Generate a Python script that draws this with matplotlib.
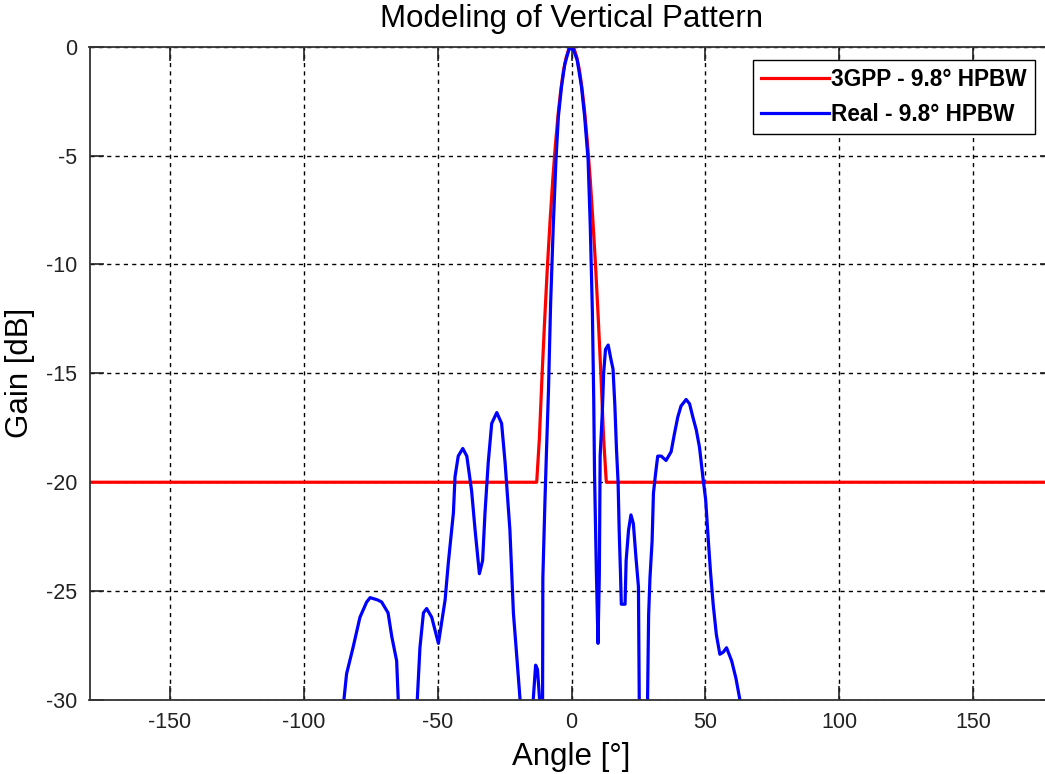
import numpy as np
import matplotlib
matplotlib.use("Agg")
import matplotlib.pyplot as plt

plt.rcParams['font.family'] = ['Liberation Sans', 'DejaVu Sans']
plt.rcParams['axes.unicode_minus'] = False

# 3GPP model (red)
gpp_angle = [-180, -13, -12, -11, -10, -9, -8, -7, -6, -5, -4, -3, -2, -1, 0,
             1, 2, 3, 4, 5, 6, 7, 8, 9, 10, 11, 12, 13, 180]
gpp_gain = [-20, -20, -18.0, -15.1, -12.5, -10.1, -8.0, -6.1, -4.5, -3.1, -2.0, -1.1, -0.5, -0.1, 0,
            -0.1, -0.5, -1.1, -2.0, -3.1, -4.5, -6.1, -8.0, -10.1, -12.5, -15.1, -18.0, -20, -20]

real_angle = [-90, -85, -84, -81.6, -79, -76.5, -75.2, -72.5, -70.9, -68.5, -67.1, -65.3, -64.7,
              -61, -57.6, -56.6, -55.3, -54.1, -52.2, -49.7, -47.2, -46.0, -44.1, -43.5, -42.3,
              -40.6, -39.1, -37.3, -36.0, -34.4, -33.2, -32.3, -31.1, -29.8, -27.9, -26.1, -24.8,
              -23.0, -21.7, -20.5, -19.2, -16.5, -14.3, -13.4, -12.7, -11.9, -11.4, -10.8, -10.7,
              -9.9, -9.3, -8.6, -7.8, -6.8, -5.8, -4.9, -3.7, -2.5, -0.9, 0.6, 2.1, 3.7, 4.9,
              6.2, 7.0, 7.8, 8.3, 8.6, 9.3, 9.9, 10.4, 10.7, 11.5, 12.0, 12.7, 13.7, 14.8, 15.5,
              16.2, 16.8, 17.4, 17.8, 18.3, 18.6, 20.0, 20.4, 21.3, 22.2, 23.1, 24.1, 25.0, 25.3,
              27, 28.4, 28.8, 29.3, 30.1, 30.6, 31.4, 32.2, 33.5, 35.3, 37.2, 38.4, 39.7, 40.9,
              42.8, 44.1, 45.3, 46.6, 47.8, 49.1, 50.1, 51.0, 51.9, 52.9, 54.1, 55.4, 56.7,
              57.9, 59.8, 61.4, 62.9, 66]
real_gain = [-36, -30.0, -28.8, -27.6, -26.2, -25.5, -25.3, -25.4, -25.5, -26.0, -27.1, -28.2, -30.0,
             -35, -30.0, -27.6, -26.0, -25.8, -26.2, -27.4, -25.4, -23.7, -21.4, -19.75, -18.8,
             -18.45, -18.8, -20.4, -22.2, -24.2, -23.6, -21.4, -19.1, -17.3, -16.8, -17.3, -19.1,
             -22.2, -26.0, -27.9, -30.0, -35, -30.0, -28.4, -28.6, -30.0, -32, -30.0, -24.4,
             -20.8, -18.4, -15.8, -11.8, -8.2, -5.2, -3.2, -1.8, -0.8, -0.1, -0.1, -0.6, -1.8, -3.2,
             -5.2, -8.2, -12.2, -16.2, -19.6, -24.2, -27.4, -24.2, -18.8, -16.8, -15.0, -13.9, -13.7, -14.4, -14.8,
             -16.5, -18.5, -20.0, -22.2, -24.2, -25.6, -25.6, -23.6, -22.2, -21.5, -21.9, -23.5, -24.8, -30.0,
             -34, -30.0, -26.1, -24.4, -22.7, -20.5, -19.6, -18.8, -18.8, -19.0, -18.6, -17.8, -17.0, -16.5,
             -16.2, -16.4, -17.0, -17.6, -18.4, -19.8, -20.8, -22.5, -24.1, -25.6, -27.0, -27.9, -27.8,
             -27.6, -28.2, -29.0, -30.0, -34]

xticks = [-150, -100, -50, 0, 50, 100, 150]
yticks = [-30, -25, -20, -15, -10, -5, 0]

fig = plt.figure(figsize=(10.45, 7.74), dpi=100)
ax = fig.add_axes([89.5 / 1045, 74 / 774, 964 / 1045, 653.3 / 774])

ax.plot(gpp_angle, gpp_gain, color='#ff0000', lw=2.3, label='3GPP - 9.8° HPBW')
ax.plot(real_angle, real_gain, color='#0000ff', lw=2.3, label='Real - 9.8° HPBW')

ax.set_xlim(-180, 180)
ax.set_ylim(-30, 0)
ax.set_xticks(xticks)
ax.set_yticks(yticks)
ax.grid(True, color='black', linestyle=(0, (3, 3)), linewidth=1.0)
ax.set_axisbelow(True)
ax.tick_params(direction='in', length=10, width=1.2, top=True, right=True,
               labelsize=15.5, pad=9, colors='#222222')
for s in ax.spines.values():
    s.set_linewidth(1.3)
    s.set_color('#333333')

ax.set_title('Modeling of Vertical Pattern', fontsize=22.5, pad=14)
ax.set_xlabel('Angle [°]', fontsize=22.5, labelpad=6)
ax.set_ylabel('Gain [dB]', fontsize=22.5, labelpad=8)

leg = ax.legend(loc='upper right', bbox_to_anchor=(1035 / 1045, 714 / 774),
                bbox_transform=fig.transFigure, borderaxespad=0, fancybox=False,
                framealpha=1, edgecolor='black', handlelength=3.0,
                prop={'weight': 'bold', 'size': 16.3}, borderpad=0.35, labelspacing=0.55,
                handletextpad=0.1)
leg.get_frame().set_linewidth(1.0)

fig.savefig('out.png', dpi=100)
